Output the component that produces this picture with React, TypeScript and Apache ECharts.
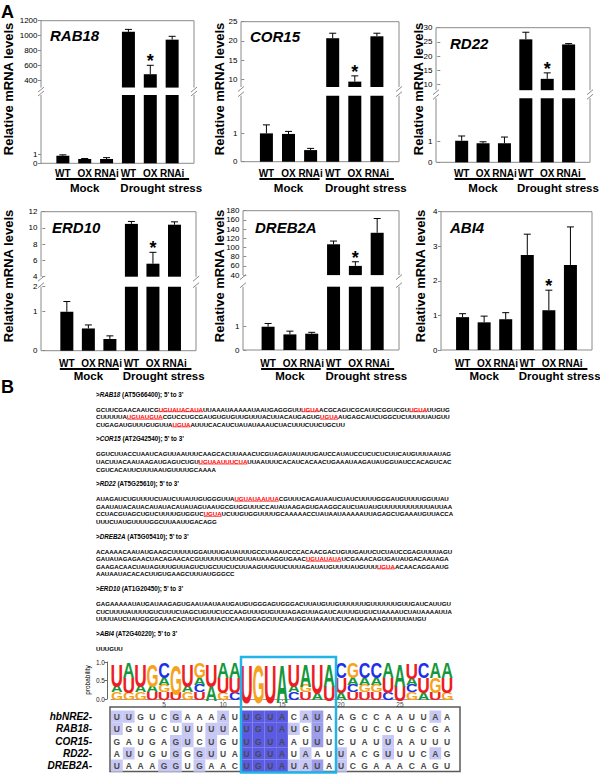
import React, { useEffect, useRef } from 'react';
import * as echarts from 'echarts';

const FF = "'Liberation Sans', Arial, Helvetica, sans-serif";

// ---------------- Panel A data ----------------
const genotypes = ['WT', 'OX', 'RNAi'];
const treatments = ['Mock', 'Drought stress'];
const geneNames = ['RAB18', 'COR15', 'RD22', 'ERD10', 'DREB2A', 'ABI4'];
const yTitle = 'Relative mRNA levels';
// order: Mock WT, Mock OX, Mock RNAi, Drought WT, Drought OX, Drought RNAi
const significant = [0, 0, 0, 0, 1, 0];

const rab18Mean = [0.84, 0.48, 0.48, 1050, 480, 945];
const rab18Err = [0.1, 0.05, 0.15, 33, 120, 45];
const cor15Mean = [1.0, 0.98, 0.41, 20.7, 9.4, 21.2];
const cor15Err = [0.3, 0.09, 0.06, 1.3, 1.5, 0.8];
const rd22Mean = [1.04, 0.92, 0.92, 25.9, 12.0, 24.1];
const rd22Err = [0.23, 0.07, 0.3, 2.5, 2.1, 0.3];
const erd10Mean = [1.0, 0.57, 0.3, 10.5, 5.6, 10.4];
const erd10Err = [0.26, 0.09, 0.08, 0.3, 1.4, 0.35];
const dreb2aMean = [1.0, 0.67, 0.7, 107, 60, 132];
const dreb2aErr = [0.14, 0.14, 0.06, 7, 9, 31];
const abi4Mean = [0.95, 0.8, 0.89, 2.75, 1.15, 2.46];
const abi4Err = [0.1, 0.18, 0.19, 0.6, 0.58, 1.1];

const rab18UpperTicks = [400, 600, 800, 1000, 1200];
const cor15UpperTicks = [10, 15, 20, 25];
const rd22UpperTicks = [10, 15, 20, 25, 30];
const erd10UpperTicks = [4, 6, 8, 10, 12];
const dreb2aUpperTicks = [40, 60, 80, 100, 120, 140, 160, 180];
const lowerTicks = [0, 1];
const abi4Ticks = [0, 1, 2, 3, 4];

// ---------------- Panel B data ----------------
const seqBlocks = [
  { gene: 'RAB18', id: 'AT5G66400', lines: [
    'GCUUCGAACAAUCG[UGUAUACAUA]UUAAAUAAAAAUAAUGAGGGUU[UGUA]ACGCAGUCGCAUUCGGUCGU[UGUA]UUGUG',
    'CUUUUUA[UGUAUGUA]CGUCCUGCGAUGUGUGUUGUUUACUUACAUGAGUG[UGUA]AUGAGCAUCUGGCUCUUUUUAUGUU',
    'CUGAGAUGUUUGUGUUA[UGUA]AUUUCACAUCUAUAUAAAUCUACUUUCUUCUGCUU'] },
  { gene: 'COR15', id: 'AT2G42540', lines: [
    'GGUCUUACCUAAUCAGUUAAUUUCAAGCACUUAAACUCGUAGAUAUAUUGAUCCAUAUCCUCUCUCUUCAUGUUUAAUAG',
    'UACUUACAAUAAGAUGAGUCUGU[UGUAAUUUCUA]UUAAUUUCACAUCACAACUGAAAUAAGAUAUGGUAUCCACAGUCAC',
    'CGUCACAUUCUUUAAUGUUUUGCAAAA'] },
  { gene: 'RD22', id: 'AT5G25610', lines: [
    'AUAGAUCUGUUUUCUAUCUUAUUGUGGGUUA[UGUAUAAUUA]CGUUUCAGAUAAUCUAUCUUUUGGGAUGUUUUGGUUAU',
    'GAAUAUACAUACAUAUACAUAUAGUAAUGCGUGGUUUCCAUAUAAGAGUGAAGGCAUCUAUAUGUUUUUUUUUUUAUUAA',
    'CCUACGUAGCUGUCUUUUGUGGUC[UGUA]UCUUGUGGUUUUGCAAAAACCUAUAAUAAAAAUUAGAGCUGAAAUGUUACCA',
    'UUUCUAUGUUUUGGCUUAAUUGACAGG'] },
  { gene: 'DREB2A', id: 'AT5G05410', lines: [
    'ACAAAACAAUAUGAAGCUUUUUGGAUUUGAUAUUUGCCUUAAUCCCACAACGACUGUUGAUUCUCUAUCCGAGUUUUAGU',
    'GAUAUAGAGAACUACAGAACACGUUUUUUCUUGUUAUAAAGGUGAAC[UGUAUAUA]UCGAAACAGUGAUAUGACAAUAGA',
    'GAAGACAACUAUAGUUUGUUAGUCUGCUUCUCUUAAGUUGUUCUUUAGAUAUGUUUUAUGUUU[UGUA]ACAACAGGAAUG',
    'AAUAAUACACACUUGUGAAGCUUUAUGGGCC'] },
  { gene: 'ERD10', id: 'AT1G20450', lines: [
    'GAGAAAAAUAUGAUAAGAGUGAAUAAUAAUGAUGUGGGAGUGGGACUUAUGUUGUUUUUUGUUUUUUGUUGAUCAUUGU',
    'CUCUUUUAUUUUGUCUUUCUAGCUGUUCUCCAAGUUUGUGUUUAGAGUUAGAUCAUUUGUGUCUAAAAUCUAUAAAAUUA',
    'UUUUAUCUAUGGGGAAACACUUGUUUUACUCAAUGGAGCUUCAAUGGAUAAAUUCUCAUGAAAAGUUUUUAUGU'] },
  { gene: 'ABI4', id: 'AT2G40220', lines: ['UUUGUU'] },
];

const alignNames = ['hbNRE2-', 'RAB18-', 'COR15-', 'RD22-', 'DREB2A-'];
const alignSeqs = [
  'UUGUCGAAAAUUGUACAUAAGCCAAUUAA',
  'UGUGCUUUUUAUGUAUGUACGUCCUGCGA',
  'GAUGAGUCUGUUGUAAUUUCUAUUAAUUU',
  'AUUGUGGGUUAUGUAUAAUUACGUUUCAG',
  'UAAAGGUGAACUGUAUAUAUCGAAACAGU',
];
// shading level per cell: 0 none, 1 light, 2 medium, 3 dark
const alignShade = [
  '11000100010333301200000000010',
  '10000010110333310200000000000',
  '00000110100333300200000100000',
  '01000101100333301001000100010',
  '10001101000333311201000000000',
];
const logoTopLetters = 'UAUGCGUGUAAUGUAUAUACGCCAAUCAA';
const logoXTicks = [5, 10, 15, 20, 25];
const logoYTicks = [0, 0.5, 1];
const nucleotides = ['A', 'C', 'G', 'U'];

// ---------------- layout (positions only) ----------------
const panelLayout: any[] = [
  { L: 41, R: 194, xMin: 0, T: 20.7, Bu: 87.6, Tl: 95, Bl: 163.3, upMin: 300, upMax: 1200, lowMax: 7.6, titleX: 8, titleY: 89, nameX: 50, nameY: 35, catY: 173, lineY: 179, grpY: 188 },
  { L: 241, R: 399, xMin: -0.15, T: 21.7, Bu: 87, Tl: 95.7, Bl: 161.7, upMin: 8, upMax: 25, lowMax: 2.33, titleX: 219, titleY: 89, nameX: 250, nameY: 36, catY: 173, lineY: 179, grpY: 188 },
  { L: 436, R: 590, xMin: -0.2, T: 27.7, Bu: 90.2, Tl: 98.3, Bl: 162.3, upMin: 8, upMax: 30, lowMax: 3.09, titleX: 418, titleY: 89, nameX: 450, nameY: 43, catY: 173, lineY: 179, grpY: 188 },
  { L: 41, R: 196, xMin: -0.2, T: 211.7, Bu: 276.7, Tl: 286.7, Bl: 350.7, upMin: 4, upMax: 12, lowMax: 1.64, lowTop: '2', titleX: 8, titleY: 276, nameX: 52, nameY: 227, catY: 363, lineY: 369, grpY: 376 },
  { L: 243, R: 399, xMin: -0.15, T: 210.7, Bu: 275.1, Tl: 286.7, Bl: 350, upMin: 40, upMax: 180, lowMax: 2.72, titleX: 219, titleY: 276, nameX: 255, nameY: 227, catY: 363, lineY: 369, grpY: 376 },
  { L: 441, R: 592, xMin: 0, T: 211.7, Bl: 350, single: true, sMax: 4, titleX: 420, titleY: 276, nameX: 450, nameY: 227, catY: 363, lineY: 369, grpY: 376 },
];

const panelData: any[] = [
  { gene: geneNames[0], mean: rab18Mean, err: rab18Err, upTicks: rab18UpperTicks },
  { gene: geneNames[1], mean: cor15Mean, err: cor15Err, upTicks: cor15UpperTicks },
  { gene: geneNames[2], mean: rd22Mean, err: rd22Err, upTicks: rd22UpperTicks },
  { gene: geneNames[3], mean: erd10Mean, err: erd10Err, upTicks: erd10UpperTicks },
  { gene: geneNames[4], mean: dreb2aMean, err: dreb2aErr, upTicks: dreb2aUpperTicks },
  { gene: geneNames[5], mean: abi4Mean, err: abi4Err, upTicks: abi4Ticks },
];

let _ctx: any = null;
function getCtx() {
  if (!_ctx) _ctx = document.createElement('canvas').getContext('2d');
  return _ctx;
}
function measure(font: string, s: string) {
  const c = getCtx();
  c.font = font;
  return c.measureText(s).width;
}
function inkMetrics(font: string, ch: string) {
  const c = getCtx();
  c.font = font;
  c.textAlign = 'center';
  c.textBaseline = 'middle';
  const m = c.measureText(ch);
  const l = m.actualBoundingBoxLeft, r = m.actualBoundingBoxRight;
  const a = m.actualBoundingBoxAscent, d = m.actualBoundingBoxDescent;
  return { w: l + r, h: a + d, cx: (r - l) / 2, cy: (d - a) / 2 };
}

function parseSegs(line: string) {
  const out: any[] = [];
  const re = /\[([^\]]+)\]|([^\[]+)/g;
  let m: any;
  while ((m = re.exec(line))) {
    if (m[1]) out.push({ t: m[1], red: true });
    else out.push({ t: m[2], red: false });
  }
  return out;
}

const GRAY = '#8a8a8a';

function txt(x: number, y: number, text: string, font: string, extra: any = {}) {
  const align = extra.align || 'center';
  return {
    type: 'text', x, y, silent: true, rotation: extra.rotation || 0,
    style: { text, font, fill: extra.fill || '#000', align, verticalAlign: 'middle', textAlign: align, textVerticalAlign: 'middle', rich: extra.rich },
  };
}
function seg(x1: number, y1: number, x2: number, y2: number, stroke: string, lw: number) {
  return { type: 'line', silent: true, shape: { x1, y1, x2, y2 }, style: { stroke, lineWidth: lw } };
}
function poly(points: number[][], stroke: string, lw: number) {
  return { type: 'polyline', silent: true, shape: { points }, style: { stroke, lineWidth: lw, fill: null } };
}

function errRender(params: any, api: any) {
  const x = api.value(0), m = api.value(1), e = api.value(2), s = api.value(3);
  const p0 = api.coord([x, m]);
  const p1 = api.coord([x, m + e]);
  const children: any[] = [
    { type: 'line', shape: { x1: p0[0], y1: p0[1], x2: p1[0], y2: p1[1] }, style: { stroke: '#000', lineWidth: 1 } },
    { type: 'line', shape: { x1: p1[0] - 3.5, y1: p1[1], x2: p1[0] + 3.5, y2: p1[1] }, style: { stroke: '#000', lineWidth: 1 } },
  ];
  if (s) {
    children.push({ type: 'text', x: p1[0], y: p1[1] - 4, style: { text: '*', font: `bold 18px ${FF}`, fill: '#000', align: 'center', verticalAlign: 'middle', textAlign: 'center', textVerticalAlign: 'middle' } });
  }
  return { type: 'group', children };
}

function buildOption() {
  const grid: any[] = [], xAxis: any[] = [], yAxis: any[] = [], series: any[] = [], graphic: any[] = [];

  graphic.push(txt(1, 12, 'A', `bold 18px ${FF}`, { align: 'left' }));

  panelLayout.forEach((p: any, k: number) => {
    const d = panelData[k];
    const xpix = (v: number) => p.L + ((v - p.xMin) * (p.R - p.L)) / (7 - p.xMin);
    const pos = [1, 2, 3, 4, 5, 6];

    const addGrid = (top: number, bottom: number, yMin: number, yMax: number, ticks: number[], tickText: string[], showCats: boolean) => {
      const gi = grid.length;
      grid.push({ left: p.L, top, width: p.R - p.L, height: bottom - top, containLabel: false, outerBoundsMode: 'none' });
      xAxis.push({
        gridIndex: gi, type: 'value', min: p.xMin, max: 7,
        axisLine: { show: false }, axisTick: { show: false }, splitLine: { show: false },
        axisLabel: showCats
          ? { show: true, customValues: pos, hideOverlap: false, showMinLabel: true, showMaxLabel: true, formatter: (v: number) => genotypes[(Math.round(v) - 1) % 3], fontFamily: FF, fontSize: 10, fontWeight: 'bold', color: '#000', margin: p.catY - bottom - 5 }
          : { show: false },
      });
      yAxis.push({
        gridIndex: gi, type: 'value', min: yMin, max: yMax,
        axisLine: { show: false }, splitLine: { show: false },
        axisTick: { show: true, customValues: ticks, length: 3, lineStyle: { color: GRAY } },
        axisLabel: { show: true, customValues: ticks, hideOverlap: false, formatter: (v: number) => tickText[ticks.indexOf(v)], fontFamily: FF, fontSize: 8, color: '#000', margin: 3.5 },
      });
      return gi;
    };
    const bars = (gi: number, idx: number[]) => ({
      type: 'bar', xAxisIndex: gi, yAxisIndex: gi, barWidth: 13, clip: true, silent: true,
      itemStyle: { color: '#000' }, data: idx.map((i) => [i + 1, d.mean[i]]),
    });
    const errs = (gi: number, idx: number[]) => ({
      type: 'custom', xAxisIndex: gi, yAxisIndex: gi, silent: true, renderItem: errRender,
      data: idx.map((i) => [i + 1, d.mean[i], d.err[i], significant[i]]),
    });

    if (p.single) {
      const g = addGrid(p.T, p.Bl, 0, p.sMax, d.upTicks, d.upTicks.map(String), true);
      series.push(bars(g, [0, 1, 2, 3, 4, 5]));
      series.push(errs(g, [0, 1, 2, 3, 4, 5]));
      graphic.push(poly([[p.L, p.T], [p.R, p.T], [p.R, p.Bl], [p.L, p.Bl], [p.L, p.T]], GRAY, 1));
    } else {
      const gu = addGrid(p.T, p.Bu, p.upMin, p.upMax, d.upTicks, d.upTicks.map(String), false);
      const lt = p.lowTop ? [...lowerTicks, p.lowMax] : lowerTicks;
      const ltText = p.lowTop ? [...lowerTicks.map(String), p.lowTop] : lowerTicks.map(String);
      const gl = addGrid(p.Tl, p.Bl, 0, p.lowMax, lt, ltText, true);
      series.push(bars(gu, [3, 4, 5]));
      series.push(errs(gu, [3, 4, 5]));
      series.push(bars(gl, [0, 1, 2, 3, 4, 5]));
      series.push(errs(gl, [0, 1, 2]));
      graphic.push(poly([[p.L, p.Bu], [p.L, p.T], [p.R, p.T], [p.R, p.Bu]], GRAY, 1));
      graphic.push(poly([[p.L, p.Tl], [p.L, p.Bl], [p.R, p.Bl], [p.R, p.Tl]], GRAY, 1));
      [p.L, p.R].forEach((X: number) => {
        graphic.push(seg(X - 3, p.Bu + 4.5, X + 3, p.Bu - 0.5, GRAY, 1));
        graphic.push(seg(X - 3, p.Tl + 1, X + 3, p.Tl - 4, GRAY, 1));
      });
    }
    // titles, gene name
    graphic.push(txt(p.titleX, p.titleY, yTitle, `bold 13px ${FF}`, { rotation: Math.PI / 2 }));
    graphic.push(txt(p.nameX, p.nameY, d.gene, `italic bold 15px ${FF}`, { align: 'left' }));
    // group underlines and labels
    graphic.push(seg(xpix(1) - 7, p.lineY, xpix(3) + 9, p.lineY, '#000', 2));
    graphic.push(seg(xpix(4) - 7, p.lineY, xpix(6) + 17, p.lineY, '#000', 2));
    graphic.push(txt(xpix(2), p.grpY, treatments[0], `bold 11.5px ${FF}`));
    graphic.push(txt((xpix(5) + xpix(6)) / 2, p.grpY, treatments[1], `bold 11.5px ${FF}`));
  });

  // ---------- Panel B ----------
  graphic.push(txt(1, 387, 'B', `bold 18px ${FF}`, { align: 'left' }));
  const seqFont = `bold 6.1px ${FF}`;
  const hdrFont = `bold 6.3px ${FF}`;
  const X0 = 96;
  let y = 394;
  seqBlocks.forEach((b) => {
    graphic.push(txt(X0, y, `>{i|${b.gene}} (${b.id}); 5\u2019 to 3\u2019`, hdrFont, { align: 'left', rich: { i: { font: `italic ${hdrFont}`, fill: '#000' } } }));
    y += 15;
    b.lines.forEach((ln, li) => {
      const segs = parseSegs(ln);
      const text = segs.map((s: any) => (s.red ? `{r|${s.t}}` : `{n|${s.t}}`)).join('');
      graphic.push(txt(X0, y, text, seqFont, { align: 'left', rich: { n: { font: seqFont, fill: '#000' }, r: { font: seqFont, fill: '#ff0000' } } }));
      let off = 0;
      segs.forEach((s: any) => {
        const w = measure(seqFont, s.t);
        if (s.red) graphic.push(seg(X0 + off, y + 2.7, X0 + off + w, y + 2.7, '#ff0000', 0.6));
        off += w;
      });
      if (li < b.lines.length - 1) y += 7.6;
    });
    y += 14.6;
  });

  // ---------- sequence logo ----------
  const nCols = alignSeqs[0].length;
  const logoGrid = grid.length;
  grid.push({ left: 111, top: 662, width: 342, height: 37, containLabel: false, outerBoundsMode: 'none' });
  xAxis.push({
    gridIndex: logoGrid, type: 'value', min: 0.5, max: nCols + 0.5,
    axisLine: { show: true, lineStyle: { color: '#999', width: 1 } },
    axisTick: { show: true, customValues: logoXTicks, length: 2, lineStyle: { color: '#999' } },
    splitLine: { show: false },
    axisLabel: { customValues: logoXTicks, fontFamily: FF, fontSize: 6.5, color: '#444', margin: 2 },
  });
  yAxis.push({
    gridIndex: logoGrid, type: 'value', min: 0, max: 1, offset: 4,
    axisLine: { show: true, lineStyle: { color: '#666', width: 1 } },
    axisTick: { show: true, customValues: logoYTicks, length: 2.5, lineStyle: { color: '#666' } },
    splitLine: { show: false },
    axisLabel: { customValues: logoYTicks, formatter: (v: number) => v.toFixed(1), fontFamily: FF, fontSize: 6.5, color: '#222', margin: 2 },
  });
  graphic.push(txt(87, 680, 'probability', `6.5px ${FF}`, { rotation: Math.PI / 2 }));

  const logoData: any[] = [];
  for (let c = 0; c < nCols; c++) {
    const counts: any = { A: 0, C: 0, G: 0, U: 0 };
    alignSeqs.forEach((s) => counts[s[c]]++);
    const top = logoTopLetters[c];
    const order = nucleotides.filter((n) => counts[n] > 0).sort((a, b) => {
      if (counts[a] !== counts[b]) return counts[a] - counts[b];
      if (a === top) return 1;
      if (b === top) return -1;
      return a > b ? -1 : 1;
    });
    let acc = 0;
    order.forEach((n) => {
      const f = counts[n] / alignSeqs.length;
      logoData.push([c + 1, acc, acc + f, nucleotides.indexOf(n)]);
      acc += f;
    });
  }
  const letterColor: any = { A: '#15973b', C: '#2030e8', G: '#f6a31c', U: '#ee1c24' };
  const LF = `bold 40px ${FF}`;
  const ink: any = {};
  nucleotides.forEach((n) => (ink[n] = inkMetrics(LF, n)));
  series.push({
    type: 'custom', xAxisIndex: logoGrid, yAxisIndex: logoGrid, silent: true,
    data: logoData,
    renderItem: (params: any, api: any) => {
      const col = api.value(0), y0 = api.value(1), y1 = api.value(2), n = nucleotides[api.value(3)];
      const pb = api.coord([col, y0]);
      const pt = api.coord([col, y1]);
      const w = api.size([1, 0])[0] * 0.92;
      const h = pb[1] - pt[1];
      const m = ink[n];
      return {
        type: 'text', x: pb[0], y: (pb[1] + pt[1]) / 2, scaleX: w / m.w, scaleY: h / m.h,
        style: { x: -m.cx, y: -m.cy, text: n, font: LF, fill: letterColor[n], align: 'center', verticalAlign: 'middle', textAlign: 'center', textVerticalAlign: 'middle' },
      };
    },
  });

  // ---------- alignment ----------
  const alGrid = grid.length;
  grid.push({ left: 111, top: 710.5, width: 342, height: 61.25, containLabel: false, outerBoundsMode: 'none' });
  xAxis.push({ gridIndex: alGrid, type: 'value', min: 0.5, max: nCols + 0.5, show: false });
  yAxis.push({
    gridIndex: alGrid, type: 'category', data: alignNames, inverse: true,
    axisLine: { show: false }, axisTick: { show: false }, splitLine: { show: false },
    axisLabel: { interval: 0, hideOverlap: false, fontFamily: FF, fontSize: 10, fontWeight: 'bold', fontStyle: 'italic', color: '#000', margin: 19 },
  });
  const shadeColor = ['', '#c8c8f4', '#9d9dea', '#5a5ae2'];
  const alData: any[] = [];
  alignSeqs.forEach((s, r) => {
    for (let c = 0; c < nCols; c++) alData.push([c + 1, r, Number(alignShade[r][c])]);
  });
  series.push({
    type: 'custom', xAxisIndex: alGrid, yAxisIndex: alGrid, silent: true, data: alData,
    renderItem: (params: any, api: any) => {
      const col = api.value(0), row = api.value(1), lvl = api.value(2);
      const p = api.coord([col, row]);
      const sz = api.size([1, 1]);
      const children: any[] = [];
      if (lvl > 0) children.push({ type: 'rect', shape: { x: p[0] - sz[0] / 2, y: p[1] - sz[1] / 2, width: sz[0], height: sz[1] }, style: { fill: shadeColor[lvl] } });
      children.push({ type: 'text', x: p[0], y: p[1] + 0.5, style: { text: alignSeqs[row][col - 1], font: `bold 8.5px ${FF}`, fill: '#4a4a4a', align: 'center', verticalAlign: 'middle', textAlign: 'center', textVerticalAlign: 'middle' } });
      return { type: 'group', children };
    },
  });
  graphic.push({ type: 'rect', silent: true, shape: { x: 110, y: 707, width: 350, height: 64.5 }, style: { fill: null, stroke: '#5a5a5a', lineWidth: 1.5 } });
  graphic.push({ type: 'rect', silent: true, z: 100, shape: { x: 241, y: 657, width: 95, height: 115.5 }, style: { fill: null, stroke: '#22b4e6', lineWidth: 2.5 } });

  return {
    animation: false,
    backgroundColor: '#fff',
    textStyle: { fontFamily: FF },
    grid, xAxis, yAxis, series, graphic,
  };
}

export default function App() {
  const ref = useRef<HTMLDivElement>(null);
  useEffect(() => {
    const chart = echarts.init(ref.current as HTMLDivElement, null, { renderer: 'svg' });
    chart.setOption(buildOption() as any);
    return () => chart.dispose();
  }, []);
  return <div ref={ref} style={{ position: 'fixed', left: 0, top: 0, width: 600, height: 774 }} />;
}
